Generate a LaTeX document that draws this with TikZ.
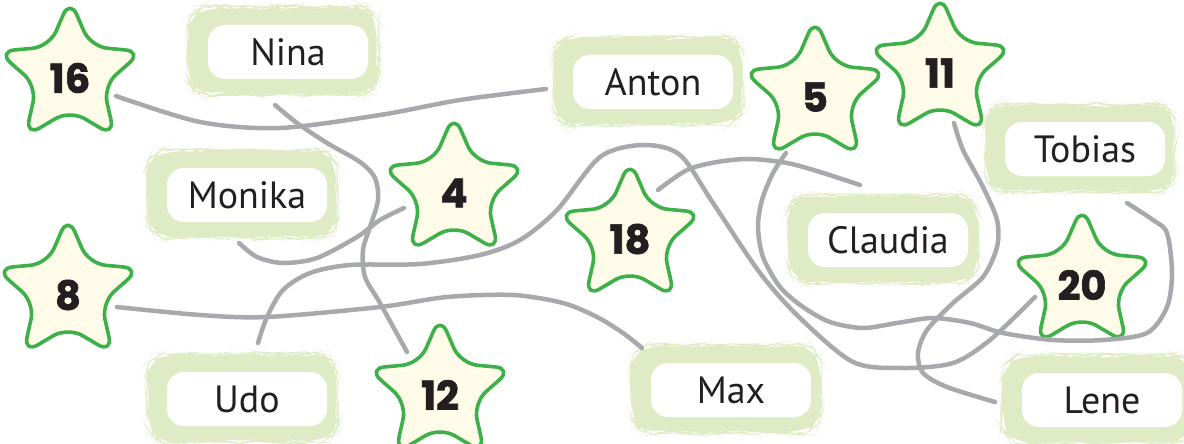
\documentclass[tikz,border=0pt]{standalone}
\usepackage{fontspec}
\setmainfont{PT Sans}
\newfontfamily\numfont{Poppins}[BoldFeatures={FakeBold=1.6}]
\usetikzlibrary{calc,decorations.pathmorphing}
\definecolor{ringgreen}{HTML}{DFEBC4}
\definecolor{starfill}{HTML}{FEFCE9}
\definecolor{stargreen}{HTML}{3DB04A}
\definecolor{linegray}{HTML}{A7A9AC}
\definecolor{txt}{HTML}{231F20}
\tikzset{
  starhub/.style={circle, minimum size=60pt, inner sep=0pt},
  starline/.style={draw=stargreen, line width=3.6pt, fill=starfill, rounded corners=17pt, line join=round},
  numtext/.style={font=\numfont\bfseries\fontsize{40}{40}\selectfont, text=txt, inner sep=0pt},
  ringfill/.style={fill=ringgreen, rounded corners=22pt, decorate,
    decoration={random steps, segment length=7pt, amplitude=1pt}},
  namebox/.style={fill=white, rounded corners=17pt, minimum width=160pt, minimum height=54pt,
    inner sep=0pt, text=txt, font=\fontsize{38}{38}\selectfont},
  conn/.style={draw=linegray, line width=4.5pt, line cap=round}
}
\newcommand{\starnum}[4]{%
  \node[starhub] (#1) at (#2,#3) {};
  \draw[starline] ($(#1)+(-90:76)$)
    \foreach \k in {1,...,9}{ -- ($(#1)+({-90+36*\k}:{mod(\k,2)==0 ? 76 : 35})$) } -- cycle;
  \node[numtext] at ($(#1)+(0,3)$) {#4};
}
\newcommand{\nameboxat}[4]{%
  \fill[ringfill] ($(#2,#3)+(-102,-45)$) rectangle ($(#2,#3)+(88,43)$);
  \node[namebox] (#1) at ($(#2,#3)+(-2,0)$) {#4};
}
\begin{document}
\begin{tikzpicture}[x=1pt,y=-1pt]
\useasboundingbox (0,0) rectangle (1184,444);
% name boxes
\nameboxat{Nina}{290}{52}{Nina}
\nameboxat{Anton}{655}{82}{Anton}
\nameboxat{Monika}{249}{195}{Monika}
\nameboxat{Tobias}{1087}{149}{Tobias}
\nameboxat{Claudia}{890}{240}{Claudia}
\nameboxat{Udo}{249}{399}{Udo}
\nameboxat{Max}{733}{390}{Max}
\nameboxat{Lene}{1104}{400}{Lene}
% stars
\starnum{s16}{70}{75}{16}
\starnum{s4}{454}{190}{4}
\starnum{s18}{630}{236}{18}
\starnum{s5}{815}{94}{5}
\starnum{s11}{940}{70}{11}
\starnum{s8}{68}{292}{8}
\starnum{s12}{440}{392}{12}
\starnum{s20}{1082}{282}{20}
% connectors
\draw[conn] plot[smooth] coordinates {($(s16)+(46,21)$) (200,122) (280,128) (380,115) (460,100) ($(Anton)+(-107,7)$)};
\draw[conn] plot[smooth] coordinates {($(Nina)+(-13,53)$) (297,123) (327,143) (360,162) (375,178) (378,200) (370,227) (363,250) (365,277) (380,303) ($(s12)+(-33,-40)$)};
\draw[conn] plot[smooth] coordinates {($(Monika)+(-8,48)$) (257,257) (283,263) (317,258) (357,237) (380,220) ($(s4)+(-50,18)$)};
\draw[conn] plot[smooth] coordinates {($(Udo)+(11,-56)$) (267,317) (283,290) (310,273) (350,265) (420,264) (480,255) (520,240) (557,210) (600,157) (643,145) (680,155) (713,203) (760,273) (800,318) (853,362) (903,368) (953,363) (990,340) ($(s20)+(-47,15)$)};
\draw[conn] plot[smooth] coordinates {($(s8)+(49,15)$) (200,315) (267,317) (380,307) (447,297) (513,295) (563,303) (597,317) (623,333) ($(Max)+(-89,-42)$)};
\draw[conn] plot[smooth] coordinates {($(s18)+(28,-46)$) (687,170) (717,162) (750,159) (787,163) (820,172) ($(Claudia)+(-28,-55)$)};
\draw[conn] plot[smooth] coordinates {($(s5)+(-29,59)$) (773,173) (762,200) (758,227) (763,257) (780,287) (803,307) (830,322) (863,328) (897,323) (933,318) (970,323) (1003,333) (1053,340) (1103,340) (1147,333) (1167,307) (1172,273) (1167,233) (1153,220) ($(Tobias)+(42,54)$)};
\draw[conn] plot[smooth] coordinates {($(s11)+(14,53)$) (963,150) (983,187) (997,220) (997,247) (983,277) (953,303) (927,330) (918,353) (923,373) (947,387) ($(Lene)+(-107,2)$)};
\end{tikzpicture}
\end{document}
